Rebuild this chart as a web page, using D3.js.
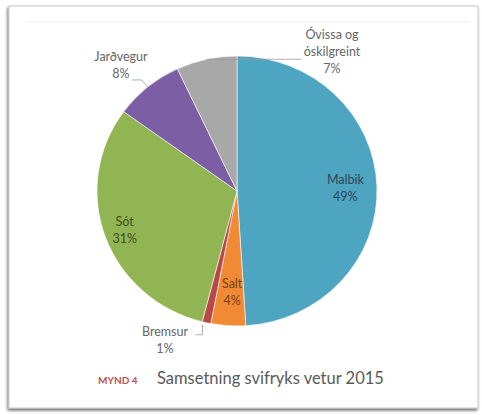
<!DOCTYPE html>
<html>

<head>
  <meta charset="utf-8">
  <script src="https://d3js.org/d3.v7.min.js"></script>
  <style>
    body { margin: 0; background: #fff; }
  </style>
</head>

<body>
  <div id="my_dataviz"></div>
  <script>
    // data
    var categories = ["Malbik", "Salt", "Bremsur", "Sót", "Jarðvegur", "Óvissa og óskilgreint"];
    var values = [49, 4, 1, 31, 8, 7];
    var labelLines = [["Malbik", "49%"], ["Salt", "4%"], ["Bremsur", "1%"], ["Sót", "31%"],
                      ["Jarðvegur", "8%"], ["Óvissa og", "óskilgreint", "7%"]];
    var colors = ["#4ea5c2", "#f08a35", "#b8474a", "#92b553", "#7b5ea3", "#a8a8a8"];

    var width = 482, height = 415;
    var cx = 237, cy = 191, rx = 140, ry = 135;

    var svg = d3.select("#my_dataviz")
      .append("svg")
      .attr("width", width)
      .attr("height", height)
      .style("font-family", "Lato, 'Open Sans', sans-serif");

    var defs = svg.append("defs");
    var f = defs.append("filter").attr("id", "shadow")
      .attr("x", "-5%").attr("y", "-5%").attr("width", "110%").attr("height", "110%");
    f.append("feGaussianBlur").attr("in", "SourceAlpha").attr("stdDeviation", 1.5);
    f.append("feOffset").attr("dx", -1).attr("dy", 2).attr("result", "b");
    f.append("feComponentTransfer").append("feFuncA").attr("type", "linear").attr("slope", 0.6);
    var m = f.append("feMerge");
    m.append("feMergeNode");
    m.append("feMergeNode").attr("in", "SourceGraphic");

    // card
    svg.append("rect")
      .attr("x", 9).attr("y", 6)
      .attr("width", 469).attr("height", 402)
      .attr("fill", "#fff")
      .attr("stroke", "#c8c8c8")
      .attr("stroke-width", 1)
      .attr("filter", "url(#shadow)");

    svg.append("line")
      .attr("x1", 27).attr("x2", 470)
      .attr("y1", 22).attr("y2", 22)
      .attr("stroke", "#eeeeee");

    var pie = d3.pie().sort(null).value(function (d) { return d; });
    var arcs = pie(values);
    var arc = d3.arc().innerRadius(0).outerRadius(rx);

    var g = svg.append("g")
      .attr("transform", "translate(" + cx + "," + cy + ") scale(1," + (ry / rx) + ")");

    g.selectAll("path")
      .data(arcs)
      .enter()
      .append("path")
      .attr("d", arc)
      .attr("fill", function (d, i) { return colors[i]; })
      .attr("stroke", "#fff")
      .attr("stroke-width", 0.6);

    // point on ellipse at angle a, radius fraction k
    function pt(a, k) {
      return [cx + Math.sin(a) * rx * k, cy - Math.cos(a) * ry * k];
    }
    function mid(d) { return (d.startAngle + d.endAngle) / 2; }

    function drawLabel(x, y, lines, color, anchor) {
      var t = svg.append("text")
        .attr("x", x).attr("y", y)
        .attr("text-anchor", anchor || "middle")
        .attr("font-size", 12.5)
        .attr("fill", color);
      lines.forEach(function (s, j) {
        t.append("tspan").attr("x", x).attr("dy", j === 0 ? 0 : 17).text(s);
      });
    }

    // inside labels
    var p0 = pt(mid(arcs[0]), 0.76);
    drawLabel(p0[0] + 2, p0[1] - 4, labelLines[0], "#2f4452");
    var p1 = pt(mid(arcs[1]), 0.78);
    drawLabel(p1[0] + 2, p1[1] - 8, labelLines[1], "#7a3e12");
    var p3 = pt(mid(arcs[3]), 0.86);
    drawLabel(p3[0] + 1, p3[1] - 4, labelLines[3], "#3d4c22");

    var lead = svg.append("g").attr("fill", "none").attr("stroke", "#9a9a9a").attr("stroke-width", 0.8);

    // Bremsur
    var p2 = pt(mid(arcs[2]), 1.0);
    lead.append("path").attr("d", "M" + (p2[0] - 4) + "," + (p2[1] + 2) + "V" + (p2[1] + 12) + "H" + (p2[0] - 11));
    drawLabel(165, p2[1] + 13, labelLines[2], "#666");

    // Jarðvegur
    var p4 = pt(mid(arcs[4]), 1.0);
    lead.append("path").attr("d", "M" + p4[0] + "," + p4[1] + "L" + (p4[0] - 6) + "," + (p4[1] - 7) + "H" + (p4[0] - 16));
    drawLabel(121, p4[1] - 26, labelLines[4], "#666");

    // Óvissa og óskilgreint
    var p5 = pt(mid(arcs[5]), 1.0);
    lead.append("path").attr("d", "M" + p5[0] + "," + p5[1] + "H" + (p5[0] + 95));
    drawLabel(332, 39, labelLines[5], "#666");

    // caption
    var cap = svg.append("text").attr("x", 98).attr("y", 384);
    cap.append("tspan")
      .attr("font-size", 10).attr("font-weight", "bold").attr("fill", "#c0504d")
      .text("MYND 4");
    cap.append("tspan")
      .attr("x", 157)
      .attr("font-size", 16.5).attr("fill", "#595959")
      .text("Samsetning svifryks vetur 2015");
  </script>
</body>

</html>
